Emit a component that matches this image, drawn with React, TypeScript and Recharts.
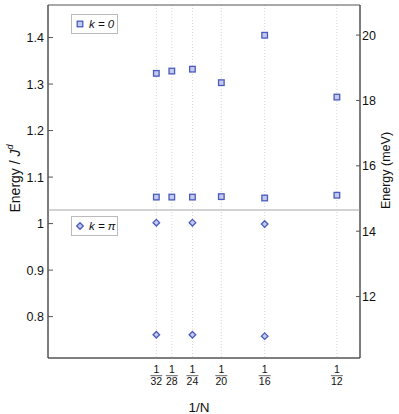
import { CartesianGrid, Label, Legend, ReferenceArea, ReferenceLine, Scatter, ScatterChart, XAxis, YAxis } from "recharts";

// system sizes N, x = 1/N
const sizes = [32, 28, 24, 20, 16, 12];
const k0High = [1.323, 1.328, 1.332, 1.303, 1.405, 1.272];
const k0Low = [1.057, 1.057, 1.057, 1.058, 1.055, 1.061];

const piSizes = [32, 24, 16];
const piHigh = [1.002, 1.002, 0.999];
const piLow = [0.761, 0.761, 0.758];

const leftTicks = [0.8, 0.9, 1, 1.1, 1.2, 1.3, 1.4];
const rightTicks = [12, 14, 16, 18, 20];
const gapLevel = 1.029;

const k0Data = sizes.flatMap((n, i) => [
    { x: 1 / n, y: k0High[i] },
    { x: 1 / n, y: k0Low[i] },
]);
const piData = piSizes.flatMap((n, i) => [
    { x: 1 / n, y: piHigh[i] },
    { x: 1 / n, y: piLow[i] },
]);

const BLUE = "#4a5bbd";
const FILL = "#c4caee";
const AXIS = "#555";
const FONT = "'Liberation Sans', Arial, sans-serif";

const Square = (p: any) => (
    <rect x={p.cx - 2.8} y={p.cy - 2.8} width={5.6} height={5.6} fill={FILL} stroke={BLUE} strokeWidth={1.3} />
);

const Diamond = (p: any) => (
    <path
        d={`M${p.cx},${p.cy - 3.3}L${p.cx + 3.3},${p.cy}L${p.cx},${p.cy + 3.3}L${p.cx - 3.3},${p.cy}Z`}
        fill={FILL}
        stroke={BLUE}
        strokeWidth={1.3}
    />
);

const FracTick = ({ x, y, payload }: any) => {
    const n = Math.round(1 / payload.value);
    return (
        <g fontFamily={FONT} fontSize={10.5} fill="#111">
            <text x={x} y={y + 7} textAnchor="middle">1</text>
            <line x1={x - 6} x2={x + 6} y1={y + 9.7} y2={y + 9.7} stroke="#666" strokeWidth={1} />
            <text x={x} y={y + 18.5} textAnchor="middle">{n}</text>
        </g>
    );
};

const LegendBoxes = ({ payload }: any) => {
    const tops = [14, 216];
    return (
        <div>
            {(payload || []).map((item: any, i: number) => (
                <div
                    key={item.value}
                    style={{
                        position: "absolute",
                        left: 71,
                        top: tops[i],
                        width: 47,
                        height: 20,
                        boxSizing: "border-box",
                        border: "1px solid #bbb",
                        background: "#fff",
                        display: "flex",
                        alignItems: "center",
                        fontFamily: FONT,
                        fontSize: 11.5,
                        fontStyle: "italic",
                        color: "#111",
                        whiteSpace: "nowrap",
                    }}
                >
                    <svg width={15} height={12} style={{ marginLeft: 2 }}>
                        {i === 0 ? <Square cx={6} cy={6} /> : <Diamond cx={6} cy={6} />}
                    </svg>
                    <span>{item.value}</span>
                </div>
            ))}
        </div>
    );
};

export default function App() {
    return (
        <div style={{ position: "absolute", left: 0, top: 0 }}>
            <ScatterChart width={399} height={414} margin={{ top: 5, right: 0, bottom: 0, left: 0 }} style={{ fontFamily: FONT }}>
                <CartesianGrid yAxisId="left" horizontal={false} stroke="#d6d6d6" strokeDasharray="1 2" />
                <XAxis
                    dataKey="x"
                    type="number"
                    domain={[0, 0.09]}
                    ticks={sizes.map((n) => 1 / n)}
                    interval={0}
                    tick={<FracTick />}
                    tickLine={false}
                    stroke={AXIS}
                    height={56}
                    allowDataOverflow
                >
                    <Label
                        content={({ viewBox }: any) => (
                            <text x={viewBox.x + viewBox.width / 2 - 5} y={412} textAnchor="middle" fontSize={13.5} fill="#111" fontFamily={FONT}>
                                1/N
                            </text>
                        )}
                    />
                </XAxis>
                <YAxis
                    yAxisId="left"
                    dataKey="y"
                    type="number"
                    domain={[0.711, 1.47]}
                    ticks={leftTicks}
                    interval={0}
                    width={48}
                    tickSize={-5}
                    tickMargin={9}
                    stroke={AXIS}
                    tick={{ fill: "#111", fontSize: 12.5 }}
                    allowDataOverflow
                >
                    <Label
                        content={({ viewBox }: any) => {
                            const cx = viewBox.x + 15;
                            const cy = viewBox.y + viewBox.height / 2 - 3;
                            return (
                                <text x={cx} y={cy} transform={`rotate(-90 ${cx} ${cy})`} textAnchor="middle" dominantBaseline="central" fontSize={14} fill="#111" fontFamily={FONT}>
                                    Energy / <tspan fontStyle="italic">J</tspan>
                                    <tspan fontStyle="italic" fontSize={9} dy={-5}>d</tspan>
                                </text>
                            );
                        }}
                    />
                </YAxis>
                <YAxis
                    yAxisId="right"
                    orientation="right"
                    type="number"
                    domain={[10.12, 20.92]}
                    ticks={rightTicks}
                    interval={0}
                    width={39}
                    tickSize={-4}
                    tickMargin={6}
                    stroke={AXIS}
                    tick={{ fill: "#111", fontSize: 12.5 }}
                    allowDataOverflow
                >
                    <Label
                        content={({ viewBox }: any) => {
                            const cx = viewBox.x + 26;
                            const cy = viewBox.y + viewBox.height / 2 - 11;
                            return (
                                <text x={cx} y={cy} transform={`rotate(-90 ${cx} ${cy})`} textAnchor="middle" dominantBaseline="central" fontSize={12.5} fill="#111" fontFamily={FONT}>
                                    Energy (meV)
                                </text>
                            );
                        }}
                    />
                </YAxis>
                <ReferenceLine yAxisId="left" y={gapLevel} stroke="#c4c4c4" strokeWidth={1.5} />
                <ReferenceArea yAxisId="left" x1={0} x2={0.09} y1={0.711} y2={1.47} fill="none" stroke={AXIS} strokeWidth={1} />
                <Legend layout="horizontal" verticalAlign="middle" align="center" wrapperStyle={{ left: 0, top: 0, width: 0, height: 0 }} content={<LegendBoxes />} />
                <Scatter yAxisId="left" name="k = 0" data={k0Data} fill={BLUE} shape={Square} isAnimationActive={false} />
                <Scatter yAxisId="left" name="k = π" data={piData} fill={BLUE} shape={Diamond} isAnimationActive={false} />
            </ScatterChart>
        </div>
    );
}
